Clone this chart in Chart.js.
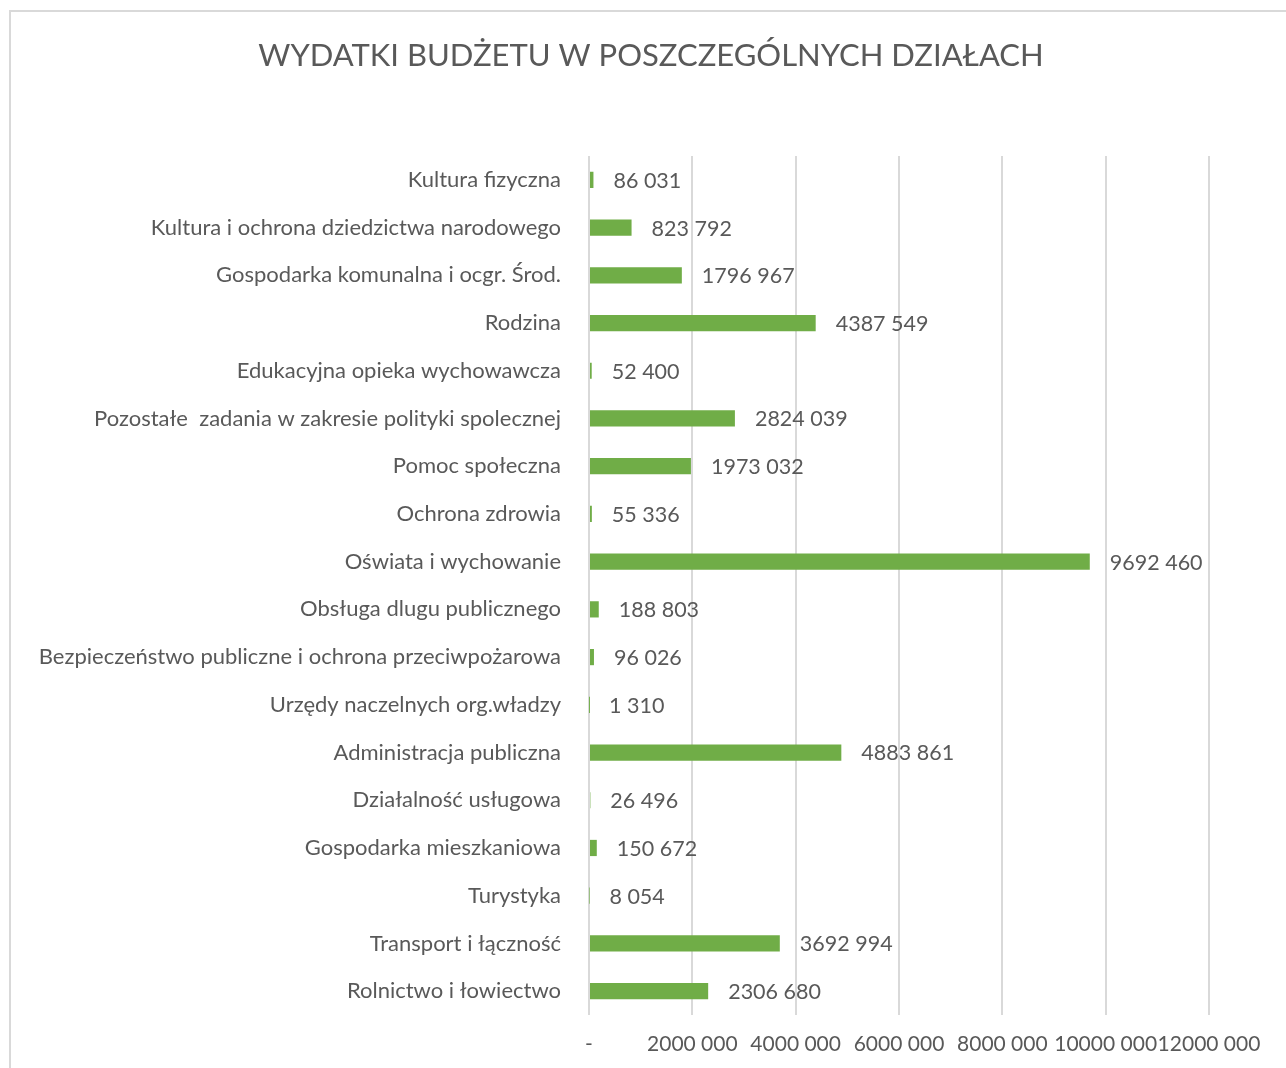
<!DOCTYPE html>
<html>
<head>
<meta charset="utf-8">
<script src="https://cdn.jsdelivr.net/npm/chart.js@4.4.1/dist/chart.umd.min.js"></script>
<style>
  body { margin: 0; overflow: hidden; background: #fff; }
  #box { position: absolute; left: 9px; top: 10px; width: 1300px; height: 1100px; border: 2px solid #d9d9d9; }
  #wydatki { position: absolute; left: 0; top: 0; }
</style>
</head>
<body>
<div id="box"><canvas id="wydatki" width="1280" height="1056"></canvas></div>
<script>
var chartTitle = "WYDATKI BUDŻETU W POSZCZEGÓLNYCH DZIAŁACH";

var categories = [
  "Kultura fizyczna",
  "Kultura i ochrona dziedzictwa narodowego",
  "Gospodarka komunalna i ocgr. Środ.",
  "Rodzina",
  "Edukacyjna opieka wychowawcza",
  "Pozostałe  zadania w zakresie polityki spolecznej",
  "Pomoc społeczna",
  "Ochrona zdrowia",
  "Oświata i wychowanie",
  "Obsługa dlugu publicznego",
  "Bezpieczeństwo publiczne i ochrona przeciwpożarowa",
  "Urzędy naczelnych org.władzy",
  "Administracja publiczna",
  "Działalność usługowa",
  "Gospodarka mieszkaniowa",
  "Turystyka",
  "Transport i łączność",
  "Rolnictwo i łowiectwo"
];

var wydatki = [86031, 823792, 1796967, 4387549, 52400, 2824039, 1973032, 55336,
  9692460, 188803, 96026, 1310, 4883861, 26496, 150672, 8054, 3692994, 2306680];

var tickLabels = ["-", "2000 000", "4000 000", "6000 000", "8000 000", "10000 000", "12000 000"];

var textColor = "#595959";
var fontFamily = "Lato, 'Open Sans', sans-serif";

// liczby w stylu Excela: "4387 549", "86 031"
function formatNumber(v) {
  if (v < 1000) return String(v);
  var rest = String(v % 1000);
  while (rest.length < 3) rest = "0" + rest;
  return Math.floor(v / 1000) + " " + rest;
}

// tytul wycentrowany na calym obszarze wykresu (nie tylko nad layoutem)
var centeredTitle = {
  id: 'centeredTitle',
  afterDraw: function(chart) {
    var ctx = chart.ctx;
    ctx.save();
    ctx.fillStyle = textColor;
    ctx.font = "31px " + fontFamily;
    ctx.textAlign = "center";
    ctx.textBaseline = "middle";
    ctx.fillText(chartTitle, chart.width / 2, 44);
    ctx.restore();
  }
};

var dataLabels = {
  id: 'dataLabels',
  afterDatasetsDraw: function(chart) {
    var ctx = chart.ctx;
    var meta = chart.getDatasetMeta(0);
    ctx.save();
    ctx.fillStyle = textColor;
    ctx.font = "21.5px " + fontFamily;
    ctx.textAlign = "left";
    ctx.textBaseline = "middle";
    meta.data.forEach(function(bar, i) {
      ctx.fillText(formatNumber(wydatki[i]), bar.x + 20, bar.y + 1);
    });
    ctx.restore();
  }
};

var ctx = document.getElementById('wydatki').getContext('2d');
var chart = new Chart(ctx, {
  type: 'bar',
  data: {
    labels: categories,
    datasets: [{
      data: wydatki,
      backgroundColor: "#70AD47",
      borderWidth: 0,
      categoryPercentage: 1,
      barPercentage: 0.34
    }]
  },
  plugins: [dataLabels, centeredTitle],
  options: {
    indexAxis: 'y',
    responsive: false,
    animation: false,
    devicePixelRatio: 1,
    layout: { padding: { left: 0, right: 82, top: 144, bottom: 0 } },
    plugins: {
      legend: { display: false },
      tooltip: { enabled: false },
      title: { display: false }
    },
    scales: {
      x: {
        min: 0,
        max: 12000000,
        ticks: {
          stepSize: 2000000,
          color: textColor,
          font: { family: fontFamily, size: 21 },
          padding: 17,
          maxRotation: 0,
          autoSkip: false,
          callback: function(value, index) { return tickLabels[index]; }
        },
        grid: { color: "#d9d9d9", lineWidth: 2, drawTicks: false },
        border: { display: false },
        afterFit: function(scale) { scale.height = 53; }
      },
      y: {
        ticks: {
          color: textColor,
          font: { family: fontFamily, size: 22 },
          padding: 28,
          autoSkip: false
        },
        grid: { display: false, drawTicks: false },
        border: { display: false },
        afterFit: function(scale) { scale.width = 578; }
      }
    }
  }
});
</script>
</body>
</html>
